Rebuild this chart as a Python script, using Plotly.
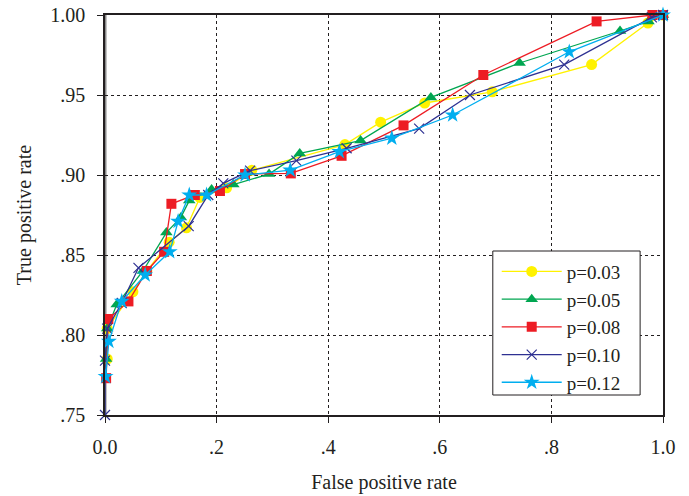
import plotly.graph_objects as go

# Data
labels = ["p=0.03", "p=0.05", "p=0.08", "p=0.10", "p=0.12"]

fpr_003 = [0.004, 0.004, 0.050, 0.075, 0.115, 0.146, 0.170, 0.218, 0.263, 0.430, 0.494, 0.573, 0.694, 0.872, 0.973, 1.0]
tpr_003 = [0.785, 0.804, 0.827, 0.840, 0.858, 0.867, 0.886, 0.892, 0.903, 0.919, 0.933, 0.945, 0.952, 0.969, 0.995, 1.0]

fpr_005 = [0.002, 0.004, 0.021, 0.068, 0.110, 0.136, 0.151, 0.191, 0.230, 0.294, 0.349, 0.458, 0.584, 0.743, 0.923, 0.974, 1.0]
tpr_005 = [0.785, 0.804, 0.819, 0.840, 0.864, 0.8735, 0.884, 0.891, 0.894, 0.9006, 0.9135, 0.9215, 0.9485, 0.970, 0.990, 0.996, 1.0]

fpr_008 = [0.002, 0.006, 0.042, 0.075, 0.106, 0.119, 0.161, 0.206, 0.251, 0.333, 0.424, 0.535, 0.678, 0.881, 0.981, 1.0]
tpr_008 = [0.773, 0.810, 0.821, 0.840, 0.852, 0.882, 0.8875, 0.890, 0.9006, 0.901, 0.912, 0.931, 0.9625, 0.996, 1.0, 1.0]

fpr_010 = [0.0, 0.0, 0.004, 0.030, 0.060, 0.150, 0.185, 0.212, 0.260, 0.343, 0.433, 0.563, 0.654, 0.823, 0.980, 1.0]
tpr_010 = [0.750, 0.784, 0.804, 0.820, 0.842, 0.868, 0.8875, 0.8948, 0.9027, 0.909, 0.9167, 0.929, 0.950, 0.969, 0.9985, 1.0]

fpr_012 = [0.001, 0.007, 0.030, 0.072, 0.116, 0.131, 0.151, 0.182, 0.251, 0.332, 0.420, 0.514, 0.623, 0.832, 1.0]
tpr_012 = [0.774, 0.796, 0.821, 0.8375, 0.852, 0.871, 0.8875, 0.8875, 0.900, 0.903, 0.9146, 0.923, 0.9375, 0.977, 1.0]

x_tickvals = [0.0, 0.2, 0.4, 0.6, 0.8, 1.0]
x_ticktext = ["0.0", ".2", ".4", ".6", ".8", "1.0"]
y_tickvals = [0.75, 0.80, 0.85, 0.90, 0.95, 1.00]
y_ticktext = [".75", ".80", ".85", ".90", ".95", "1.00"]

series = [
    (fpr_003, tpr_003, "#FFF200", "circle", 11),
    (fpr_005, tpr_005, "#00A651", "triangle-up", 11),
    (fpr_008, tpr_008, "#ED1C24", "square", 10),
    (fpr_010, tpr_010, "#2E3192", "x-thin", 10),
    (fpr_012, tpr_012, "#00AEEF", "star", 12),
]

fig = go.Figure()
for (xs, ys, col, sym, sz), name in zip(series, labels):
    marker = dict(symbol=sym, size=sz, color=col)
    if sym == "x-thin":
        marker["line"] = dict(color=col, width=1.2)
    fig.add_trace(go.Scatter(
        x=xs, y=ys, mode="lines+markers", name=name,
        line=dict(color=col, width=1.3),
        marker=marker, cliponaxis=False,
    ))

font_family = "Liberation Serif, Times New Roman, serif"
ink = "#231F20"

fig.update_layout(
    width=689, height=496,
    margin=dict(l=105, r=26, t=15, b=81, autoexpand=False),
    paper_bgcolor="white", plot_bgcolor="white",
    font=dict(family=font_family, size=20, color=ink),
    showlegend=True,
    legend=dict(
        x=0.702, y=0.406, xanchor="left", yanchor="top",
        borderwidth=0, bgcolor="rgba(0,0,0,0)",
        font=dict(family=font_family, size=19, color=ink),
        tracegroupgap=0, itemwidth=60,
    ),
    xaxis=dict(
        range=[0, 1], tickvals=x_tickvals, ticktext=x_ticktext,
        showgrid=True, gridcolor=ink, griddash="dot", gridwidth=1,
        showline=True, linecolor=ink, linewidth=1.5, mirror=True,
        ticks="outside", ticklen=6, tickcolor=ink, ticklabelstandoff=7,
        zeroline=False, automargin=False,
        title=dict(text="False positive rate", standoff=18,
                   font=dict(family=font_family, size=20)),
    ),
    yaxis=dict(
        range=[0.75, 1.0], tickvals=y_tickvals, ticktext=y_ticktext,
        showgrid=True, gridcolor=ink, griddash="dot", gridwidth=1,
        showline=True, linecolor=ink, linewidth=1.5, mirror=True,
        ticks="outside", ticklen=6, tickcolor=ink, ticklabelstandoff=8,
        zeroline=False, automargin=False,
        title=dict(text="True positive rate", standoff=13,
                   font=dict(family=font_family, size=20)),
    ),
    shapes=[
        dict(type="line", xref="paper", yref="paper", x0=0, x1=0, y0=0, y1=1,
             line=dict(color="#8A8A8A", width=3), layer="below"),
        # legend frame
        dict(type="rect", xref="paper", yref="paper", x0=0.695, x1=0.959, y0=0.05, y1=0.41,
             line=dict(color=ink, width=1), fillcolor="white", layer="above"),
    ],
)

fig.write_html("out.html")
